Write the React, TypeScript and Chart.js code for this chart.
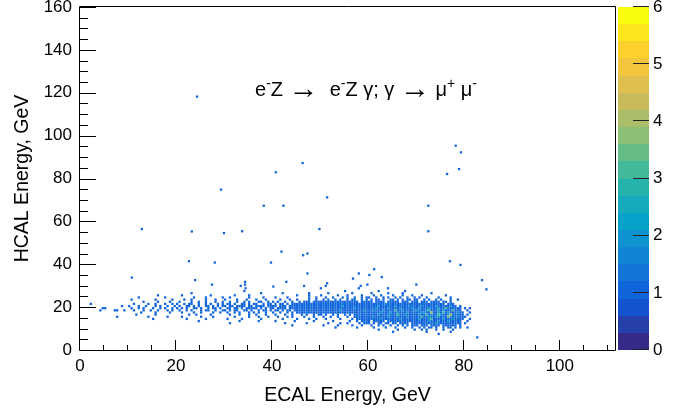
import React, { useEffect, useRef } from "react";
import { Chart, registerables } from "chart.js";

Chart.register(...registerables);

// ---------------- data ----------------
const X_MIN = 0;
const X_MAX = 111.5;
const Y_MIN = 0;
const Y_MAX = 160;
const Z_MIN = 0;
const Z_MAX = 6;
const X_TICK_STEP = 20;
const Y_TICK_STEP = 20;
const Z_TICK_STEP = 1;
const X_MINOR_STEP = 5;
const Y_MINOR_STEP = 5;
const PALETTE_LEVELS = 20;

const X_TITLE = "ECAL Energy, GeV";
const Y_TITLE = "HCAL Energy, GeV";

// process label: [text, kind] kind: 0 normal, 1 superscript, 2 arrow
const PROCESS_LABEL: [string, number][] = [
  ["e", 0], ["-", 1], ["Z ", 0], ["\u2192", 2], ["  e", 0], ["-", 1], ["Z \u03b3; \u03b3 ", 0],
  ["\u2192", 2], [" \u03bc", 0], ["+", 1], [" \u03bc", 0], ["-", 1],
];

// histogram bins (GeV)
const X_BIN_WIDTH = 0.5;
const Y_BIN_WIDTH = 1;
const GRID_TOP_BIN = 27; // lower edge (GeV) of the first row below

// dense band: each row = one HCAL bin (top to bottom), each char = one ECAL bin from 0 GeV
// '.' = empty, digit = entries. Segments of 10 GeV separated by '|'
const GRID_ROWS: string[] = [
  /* 27 */ "..... ..... ..... .....|..... ..... ..... .....|..... ..... ..... .....|..... ...1. ..... .....|..... ..... ..... .....|..... ..... 1.... .....|....1 ..... ..... 1....|..... ..... ..... .....|..... ..... ..... .....",
  /* 26 */ "..... ..... ..... .....|..... ..... ..... .....|..... .1... ..... .....|..... ..... ..... 1....|....1 ..... ..... 1....|...1. ..... ...1. .....|.1... ...1. ....1 .....|..... .1... ..... .....|..... ..... ..... .....",
  /* 25 */ "..... ..... ..... .....|..... ..... ..1.. .....|..1.. ..... ....1 .....|....1 ..... 1.... .....|..... ..... 1.... 1....|1.... ..1.. .1... ..1..|..1.. 1.... 1...1 ...1.|..1.. ..... ..1.. .....|..... ..... ..... .....",
  /* 24 */ "..... ..... ..... .....|....1 ..... ..... 1....|..... ..1.. ..1.. ....1|..1.. ..... 1.... .1...|.1... .1... ..... 1..1.|..1.. 1...1 .1..1 ..1.1|1..1. .1.1. .1.1. .1..1|.1..1 ....1 ....1 .....|..... ..... ..... .....",
  /* 23 */ "..... ..... ..... .....|.1... ..... .1... ...1.|...1. .1... ..1.. .1...|1.... 1...1 ...1. ..1..|...1. ..1.. 1.... 1..1.|.1.1. .1.1. .1.11 ..1.1|.1.11 .1..1 1.1.1 .11.1|1..1. 1..1. 1...1 ..1..|..... ..... ..... .....",
  /* 22 */ "..... ..... ..... .....|..... .1... ..1.. ..1..|.1... .1..1 ..1.. .1..1|..1.. 1..1. 1...1 1..1.|1.1.. 1..1. .1.11 1.111|11111 11111 11111 1.111|11.11 11.11 111.1 11.11|1.111 .1111 .11.1 .....|..... ..... ..... .....",
  /* 21 */ "....1 ..... ..... .....|..1.. ...1. .1... 1..1.|1..1. 11..1 ..1.1 ..1.1|.11.1 ..11. 1.11. .1.11|.1.11 .1.11 11111 11111|11111 11111 11111 11111|11111 11211 11111 11111|11111 11111 11.11 1....|..... ..... ..... .....",
  /* 20 */ "..... ..... ..... ..1..|1...1 ..1.. .1.1. .1..1|.1..1 1.1.1 ..11. 1.1.1|1.11. 1111. 11.11 11.11|11.11 1.111 11111 11111|11111 11112 11111 11111|11112 11111 12111 11211|11211 11121 11112 11.1.|..... ..... ..... .....",
  /* 19 */ "..... ....1 1.... .....|.1..1 .1... 1..1. 1..1.|1.1.1 ..11. 1..1. 11.1.|.11.1 1.1.1 1111. 1.1.1|1.111 1.111 11111 11111|11111 11111 11112 11111|11121 11121 11121 11121|12111 21112 11311 1111.|1.1.. ..... ..... .....",
  /* 18 */ "..... ...1. ....1 1..1.|..1.. .1..1 ..1.. .1.1.|.1..1 .1... 1.11. .1..1|1.1.1 1..11 .1..1 .11.1|.11.1 .11.1 11111 11111|11111 11121 11111 11121|11211 12111 13112 11112|21112 31112 12111 3111.|.1... ..... ..... .....",
  /* 17 */ "..... ..... ..... .....|..... 1.... .1... ..1..|..1.. ..1.. 1.... 1..1.|.1..1 .1... 1.1.1 ..1..|1..1. .1.1. 11111 11111|11111 11111 11111 11111|11111 21112 11211 12111|11221 14112 13121 11211|..1.. ..... ..... .....",
  /* 16 */ "..... ..... ..... .....|...1. ..... .1... .....|..... 1..1. ....1 .....|..1.. .1... 1..1. ..1..|.1... 1..1. ..1.1 ..1.1|1.1.. 1.1.. 1.1.1 11111|11112 11121 11311 21111|12113 12113 21124 11111|.1... ..... ..... .....",
  /* 15 */ "..... ..... ..... 1....|..... ...1. ..... .1...|..1.. ..... 1.... 1....|....1 ..... 1...1 ...1.|..1.. .1.1. ...1. ..1..|.1..1 ..1.. .1..1 11111|11211 11121 11211 12111|11311 21122 11142 11211|1.... ..... ..... .....",
  /* 14 */ "..... ..... ..... .....|..... ..... 1.... .....|....1 ..... ..1.. .....|.1... ..1.. ..... 1....|....1 ..... 1.... 1..1.|..1.. ...1. ...1. 11111|11111 21111 11121 11111|12111 23111 12111 21111|..1.. ..... ..... .....",
  /* 13 */ "..... ..... ..... .....|..... ..... ..... .....|..... ....1 ..... .....|..... .1... ....1 .....|.1... ....1 ..... ..1..|..... 1.... ..1.. 1.111|1.111 11.11 11111 11111|11111 21112 11121 1111.|.1... ..... ..... .....",
  /* 12 */ "..... ..... ..... .....|..... ..... ..... .....|..... ..... ..... .....|..1.. ..... ..... .....|..... 1.... ....1 .....|...1. ...1. .1... .1.11|1.1.1 1.11. 11.11 11.11|11111 11121 11111 1111.|1.... ..... ..... .....",
  /* 11 */ "..... ..... ..... .....|..... ..... ..... .....|..... ..... ..... .....|..... ..... ..... .....|..... ...1. ..... .....|.1... ..1.. ...1. ..1..|.1..1 .1..1 ..1.1 .1.11|1.111 .1111 .1111 11.1.|..... ..... ..... .....",
  /* 10 */ "..... ..... ..... .....|..... ..... ..... .....|..... ..... ..... .....|..... ..... ..... .....|..... ..... ..... .....|..... .1... ..... 1....|..1.. ..1.. .1... 1..1.|.1.1. 11.1. .1.11 .1.1.|.1... ..... ..... .....",
  /*  9 */ "..... ..... ..... .....|..... ..... ..... .....|..... ..... ..... .....|..... ..... ..... .....|..... ..... ..... .....|..... ..... ..... .....|....1 ..... ..1.. ....1|..1.1 ...1. .1... 1....|..... ..... ..... .....",
  /*  8 */ "..... ..... ..... .....|..... ..... ..... .....|..... ..... ..... .....|..... ..... ..... .....|..... ..... ..... .....|..... ..... ..... .....|..... ..... 1.... .....|....1 ..... ....1 .....|..... ..... ..... .....",
  /*  7 */ "..... ..... ..... .....|..... ..... ..... .....|..... ..... ..... .....|..... ..... ..... .....|..... ..... ..... .....|..... ..... ..... .....|..... ..... ..... .....|..... ....1 ..... .....|..... ..... ..... .....",
];

// isolated single-entry cells away from the band [ECAL, HCAL]
const OUTLIER_X: number[] = [
  24.4, 78.3, 79.4, 46.4, 40.8, 79.0, 76.5, 29.4, 51.5, 38.3, 42.4, 72.6, 12.9, 23.3, 30.0, 33.8, 49.9, 72.6,
  42.0, 46.5, 47.4, 22.7, 28.1, 39.8, 77.1, 79.3, 10.8, 47.4, 58.1, 60.3, 61.3, 56.9, 62.9, 24.0, 27.5, 34.4,
  34.4, 43.0, 51.5, 59.9, 70.1, 83.8, 84.7, 33.5, 40.3, 46.7, 50.2, 51.2, 58.1, 58.5, 64.2, 34.5, 82.8,
];
const OUTLIER_Y: number[] = [
  118.2, 95.3, 92.2, 87.2, 82.9, 84.4, 82.1, 74.8, 71.2, 67.3, 67.3, 67.3, 56.4, 55.3, 54.5, 55.4, 56.4, 55.4,
  45.9, 44.2, 45.0, 41.4, 40.8, 40.8, 41.4, 39.7, 33.8, 35.7, 35.7, 35.0, 37.7, 33.3, 34.0, 32.6, 30.5, 31.8,
  30.5, 31.8, 31.1, 30.5, 30.5, 32.6, 28.3, 29.9, 29.6, 29.9, 28.8, 29.9, 28.8, 29.9, 28.8, 28.8, 5.9,
];

// ROOT kBird palette stops
const BIRD_R = [0.2082, 0.0592, 0.078, 0.0232, 0.1802, 0.5301, 0.8186, 0.9956, 0.9764];
const BIRD_G = [0.1664, 0.3599, 0.5041, 0.6419, 0.7178, 0.7492, 0.7328, 0.7862, 0.9832];
const BIRD_B = [0.5293, 0.8684, 0.8385, 0.7914, 0.6425, 0.4662, 0.3499, 0.1968, 0.0539];

// ---------------- helpers ----------------
function bird(t: number): string {
  const p = Math.max(0, Math.min(1, t)) * (BIRD_R.length - 1);
  const i = Math.min(BIRD_R.length - 2, Math.floor(p));
  const f = p - i;
  const c = (a: number[]) => Math.round(255 * (a[i] + (a[i + 1] - a[i]) * f));
  return `rgb(${c(BIRD_R)},${c(BIRD_G)},${c(BIRD_B)})`;
}
function levelColor(level: number): string {
  return bird(level / (PALETTE_LEVELS - 1));
}
function countColor(count: number): string {
  const lvl = Math.min(PALETTE_LEVELS - 1, Math.floor((count - Z_MIN) * PALETTE_LEVELS / (Z_MAX - Z_MIN) + 1e-9));
  return levelColor(lvl);
}

function buildCells() {
  const pts: { x: number; y: number; c: number }[] = [];
  GRID_ROWS.forEach((row, r) => {
    const s = row.replace(/[^0-9.]/g, "");
    for (let k = 0; k < s.length; k++) {
      const ch = s[k];
      if (ch === ".") continue;
      pts.push({
        x: (k + 0.5) * X_BIN_WIDTH,
        y: GRID_TOP_BIN - r * Y_BIN_WIDTH + Y_BIN_WIDTH / 2,
        c: Number(ch),
      });
    }
  });
  OUTLIER_X.forEach((x, i) => pts.push({ x, y: OUTLIER_Y[i], c: 1 }));
  return pts;
}

const FONT = '"Liberation Sans", Arial, Helvetica, sans-serif';

const rootDecor = {
  id: "rootDecor",
  afterDraw(chart: any) {
    const { ctx, chartArea: a, scales } = chart;
    const xs = scales.x, ys = scales.y, zs = scales.z;
    ctx.save();
    ctx.strokeStyle = "#000";
    ctx.lineWidth = 1;
    // frame
    ctx.beginPath();
    ctx.rect(a.left - 0.5, a.top - 0.5, a.right - a.left + 1, a.bottom - a.top + 1);
    ctx.stroke();
    // x ticks (inside, upward)
    ctx.beginPath();
    for (let i = 0; i * X_MINOR_STEP <= X_MAX; i++) {
      const v = i * X_MINOR_STEP;
      const px = Math.round(xs.getPixelForValue(v)) - 0.5;
      const len = v % X_TICK_STEP === 0 ? 10 : 5;
      ctx.moveTo(px, a.bottom);
      ctx.lineTo(px, a.bottom - len);
    }
    // y ticks (inside, rightward)
    for (let i = 0; i * Y_MINOR_STEP <= Y_MAX; i++) {
      const v = i * Y_MINOR_STEP;
      const py = Math.round(ys.getPixelForValue(v)) + 0.5;
      const len = v % Y_TICK_STEP === 0 ? 16 : 8;
      ctx.moveTo(a.left, py);
      ctx.lineTo(a.left + len, py);
    }
    ctx.stroke();

    // colour palette
    const x0 = a.right + 3;
    const x1 = a.right + 34;
    const dz = (Z_MAX - Z_MIN) / PALETTE_LEVELS;
    for (let i = 0; i < PALETTE_LEVELS; i++) {
      const yT = Math.round(zs.getPixelForValue(Z_MIN + (i + 1) * dz));
      const yB = Math.round(zs.getPixelForValue(Z_MIN + i * dz));
      ctx.fillStyle = levelColor(i);
      ctx.fillRect(x0, yT, x1 - x0, yB - yT);
    }
    ctx.beginPath();
    ctx.strokeStyle = "#222";
    for (let v = Z_MIN; v <= Z_MAX; v += Z_TICK_STEP) {
      const py = Math.round(zs.getPixelForValue(v)) - 0.5;
      ctx.moveTo(x1 - 16, py);
      ctx.lineTo(x1, py);
    }
    ctx.stroke();

    // process label
    const fonts = [`20px ${FONT}`, `14px ${FONT}`, `30px ${FONT}`];
    let total = 0;
    const widths = PROCESS_LABEL.map(([t, k]) => {
      ctx.font = fonts[k];
      const w = ctx.measureText(t).width;
      total += w;
      return w;
    });
    let cx = xs.getPixelForValue(59.6) - total / 2;
    const base = ys.getPixelForValue(118.3);
    ctx.fillStyle = "#000";
    ctx.textBaseline = "alphabetic";
    ctx.textAlign = "left";
    PROCESS_LABEL.forEach(([t, k], i) => {
      ctx.font = fonts[k];
      const dy = k === 1 ? -8 : k === 2 ? 2 : 0;
      ctx.fillText(t, cx, base + dy);
      cx += widths[i];
    });
    ctx.restore();
  },
};

function noVPad(s: any) {
  s.paddingTop = 0;
  s.paddingBottom = 0;
}

export default function App() {
  const ref = useRef<HTMLCanvasElement | null>(null);
  useEffect(() => {
    document.body.style.margin = "0";
    const cells = buildCells();
    Chart.defaults.font.family = FONT;
    const chart = new Chart(ref.current as HTMLCanvasElement, {
      type: "scatter",
      data: {
        datasets: [
          {
            data: cells.map((p) => ({ x: p.x, y: p.y })),
            backgroundColor: cells.map((p) => countColor(p.c)),
            pointStyle: "rect",
            pointRadius: 1.62,
            borderWidth: 0,
            pointHoverRadius: 1.62,
          },
        ],
      },
      options: {
        animation: false,
        responsive: false,
        maintainAspectRatio: false,
        events: [],
        layout: { padding: { top: 7, left: 0, right: 0, bottom: 0 } },
        plugins: { legend: { display: false }, tooltip: { enabled: false } },
        scales: {
          x: {
            type: "linear",
            min: X_MIN,
            max: X_MAX,
            grid: { display: false, drawTicks: false },
            border: { display: false },
            ticks: {
              stepSize: X_TICK_STEP,
              includeBounds: false,
              autoSkip: false,
              maxRotation: 0,
              padding: 6,
              color: "#000",
              font: { size: 17, family: FONT },
            },
            title: {
              display: true,
              text: X_TITLE,
              color: "#000",
              font: { size: 19.5, family: FONT },
              padding: { top: 0, bottom: 8 },
            },
            afterFit: (s: any) => {
              s.height = 65;
              s.paddingLeft = 0;
              s.paddingRight = 0;
            },
          },
          y: {
            type: "linear",
            min: Y_MIN,
            max: Y_MAX,
            grid: { display: false, drawTicks: false },
            border: { display: false },
            ticks: {
              stepSize: Y_TICK_STEP,
              includeBounds: false,
              autoSkip: false,
              padding: 8,
              color: "#000",
              font: { size: 17, family: FONT },
            },
            title: {
              display: true,
              text: Y_TITLE,
              color: "#000",
              font: { size: 19.5, family: FONT },
              padding: { top: 11, bottom: 0 },
            },
            afterFit: (s: any) => {
              s.width = 80;
              noVPad(s);
            },
          },
          z: {
            type: "linear",
            axis: "y",
            position: "right",
            min: Z_MIN,
            max: Z_MAX,
            grid: { display: false, drawTicks: false },
            border: { display: false },
            ticks: {
              stepSize: Z_TICK_STEP,
              includeBounds: false,
              autoSkip: false,
              padding: 38,
              color: "#000",
              font: { size: 17, family: FONT },
            },
            afterFit: (s: any) => {
              s.width = 73;
              noVPad(s);
            },
          },
        },
      } as any,
      plugins: [rootDecor],
    });
    return () => chart.destroy();
  }, []);
  return <canvas ref={ref} width={688} height={415} style={{ display: "block" }} />;
}
